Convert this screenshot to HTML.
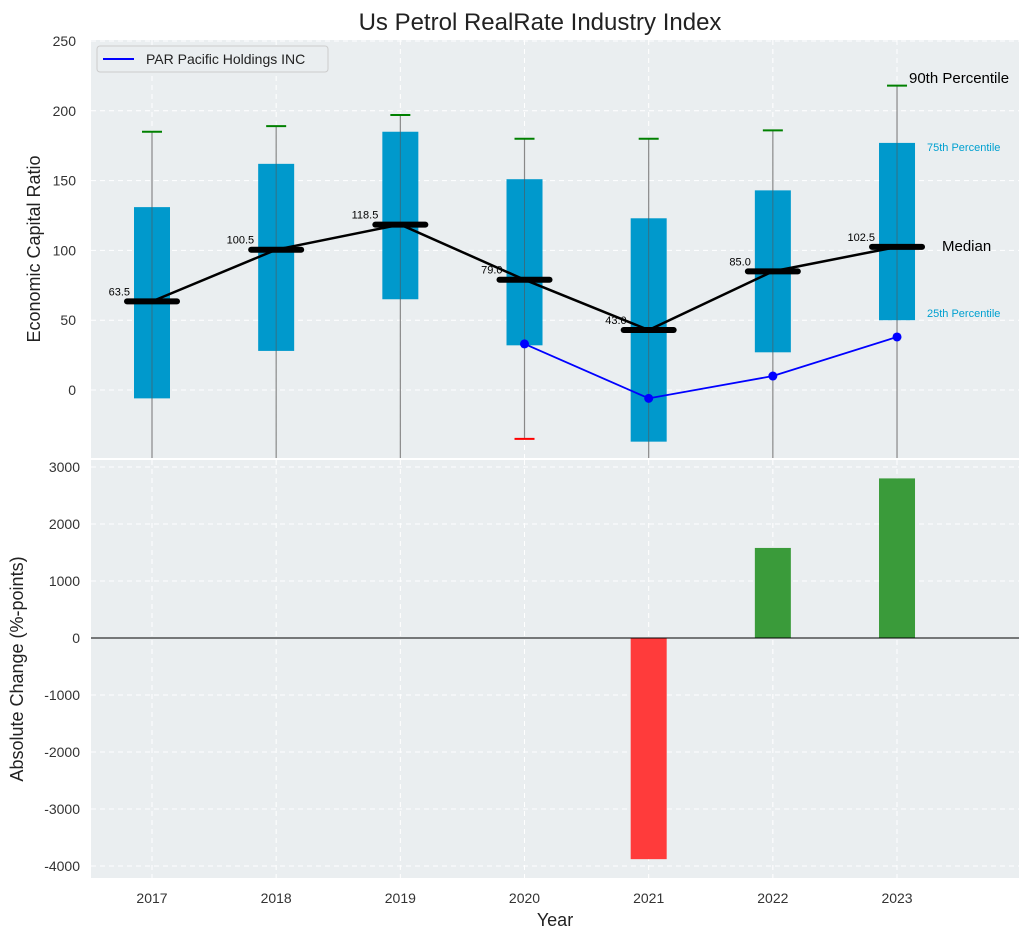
<!DOCTYPE html>
<html><head><meta charset="utf-8"><style>
body{margin:0;background:#fff;font-family:"Liberation Sans",sans-serif}
text{font-family:"Liberation Sans",sans-serif}
</style></head><body>
<svg id="chart" width="1030" height="940" xmlns="http://www.w3.org/2000/svg">
<text x="540" y="30" font-size="24" text-anchor="middle" fill="#222">Us Petrol RealRate Industry Index</text>
<rect x="91" y="40" width="928" height="418" fill="#eaeef0"/>
<rect x="91" y="460" width="928" height="418" fill="#eaeef0"/>
<g id="topg"></g><g id="botg"></g>
<text transform="translate(40,249) rotate(-90)" font-size="18" text-anchor="middle" fill="#222">Economic Capital Ratio</text>
<text transform="translate(23,669) rotate(-90)" font-size="18" text-anchor="middle" fill="#222">Absolute Change (%-points)</text>
<text x="555" y="926" font-size="18" text-anchor="middle" fill="#222">Year</text>
<g>
<rect x="97" y="46" width="231" height="26" rx="3" fill="#eaeef0" stroke="#ccc"/>
<line x1="103" y1="59" x2="134" y2="59" stroke="#0000ff" stroke-width="2"/>
<text x="146" y="64" font-size="14" fill="#222">PAR Pacific Holdings INC</text>
</g>
<text x="909" y="83" font-size="15" fill="#000">90th Percentile</text>
<text x="927" y="151" font-size="11" fill="#00a0d0">75th Percentile</text>
<text x="942" y="251" font-size="15" fill="#000">Median</text>
<text x="927" y="317" font-size="11" fill="#00a0d0">25th Percentile</text>
</svg>
<script>
const years=[2017,2018,2019,2020,2021,2022,2023];
const p25=[-6,28,65,32,-37,27,50];
const p75=[131,162,185,151,123,143,177];
const p90=[185,189,197,180,180,186,218];
const p10=[-60,-60,-60,-35,-60,-60,-60];
const medians=[63.5,100.5,118.5,79.0,43.0,85.0,102.5];
const parYears=[2020,2021,2022,2023];
const parVals=[33,-6,10,38];
const changeYears=[2021,2022,2023];
const changeVals=[-3880,1580,2800];
const topTicks=[0,50,100,150,200,250];
const botTicks=[-4000,-3000,-2000,-1000,0,1000,2000,3000];
const NS="http://www.w3.org/2000/svg";
const X=v=>152+(v-2017)*124.17;
const Yt=v=>390-v*1.396;
const Yb=v=>638-v*0.057;
function el(g,t,a){const e=document.createElementNS(NS,t);for(const k in a)e.setAttribute(k,a[k]);g.appendChild(e);return e;}
const topG=document.getElementById('topg'),botG=document.getElementById('botg');
topTicks.forEach(t=>{const l=el(topG,'line',{x1:91,x2:1019,y1:Yt(t),y2:Yt(t),stroke:'#fff','stroke-dasharray':'5,4'});


const tx=el(topG,'text',{x:76,y:Yt(t)+5,'font-size':14,'text-anchor':'end',fill:'#333'});tx.textContent=t;

});
botTicks.forEach(t=>{const l=el(botG,'line',{x1:91,x2:1019,y1:Yb(t),y2:Yb(t),stroke:'#fff','stroke-dasharray':'5,4'});


const tx=el(botG,'text',{x:80,y:Yb(t)+5,'font-size':14,'text-anchor':'end',fill:'#333'});tx.textContent=t;

});
years.forEach(y=>{[[40,458],[460,878]].forEach(r=>{const l=el(topG,'line',{x1:X(y),x2:X(y),y1:r[0],y2:r[1],stroke:'#fff','stroke-dasharray':'5,4'});

});
const tx=el(botG,'text',{x:X(y),y:903,'font-size':14,'text-anchor':'middle',fill:'#333'});tx.textContent=y;

});
const cl=el(topG,'clipPath',{id:'ct'});el(cl,'rect',{x:91,y:40,width:928,height:418});
const tg=el(topG,'g',{'clip-path':'url(#ct)'});
years.forEach((y,i)=>{const x=X(y);
const w=el(tg,'line',{x1:x,x2:x,y1:Yt(p90[i]),y2:Yt(p10[i]),stroke:'#888','stroke-width':1.2});


const b=el(tg,'rect',{x:x-18,y:Yt(p75[i]),width:36,height:Yt(p25[i])-Yt(p75[i]),fill:'#0099cc'});


el(tg,'line',{x1:x,x2:x,y1:Yt(p75[i]),y2:Yt(p25[i]),stroke:'#555','stroke-width':1,opacity:0.6});
const c=el(tg,'line',{x1:x-10,x2:x+10,y1:Yt(p90[i]),y2:Yt(p90[i]),stroke:'green','stroke-width':2});


const c2=el(tg,'line',{x1:x-10,x2:x+10,y1:Yt(p10[i]),y2:Yt(p10[i]),stroke:'red','stroke-width':2});

});
const mp=el(tg,'polyline',{points:years.map((y,i)=>X(y)+','+Yt(medians[i])).join(' '),fill:'none',stroke:'#000','stroke-width':2.5});


years.forEach((y,i)=>{const x=X(y);
const m=el(tg,'line',{x1:x-25,x2:x+25,y1:Yt(medians[i]),y2:Yt(medians[i]),stroke:'#000','stroke-width':6,'stroke-linecap':'round'});


const t=el(tg,'text',{x:x-22,y:Yt(medians[i])-6,'font-size':11,'text-anchor':'end',fill:'#000'});t.textContent=medians[i].toFixed(1);

});
const pl=el(tg,'polyline',{points:parYears.map((y,i)=>X(y)+','+Yt(parVals[i])).join(' '),fill:'none',stroke:'#0000ff','stroke-width':1.8});


parYears.forEach((y,i)=>{const p=el(tg,'circle',{cx:X(y),cy:Yt(parVals[i]),r:4.5,fill:'#0000ff'});

});
changeYears.forEach((y,i)=>{const v=changeVals[i];
const r=el(botG,'rect',{x:X(y)-18,y:Math.min(Yb(v),Yb(0)),width:36,height:Math.abs(Yb(v)-Yb(0)),fill:v<0?'#ff3b3b':'#3a9b3a'});

});
const z=el(botG,'line',{x1:91,x2:1019,y1:Yb(0),y2:Yb(0),stroke:'#000','stroke-width':1});


</script>
</body></html>
